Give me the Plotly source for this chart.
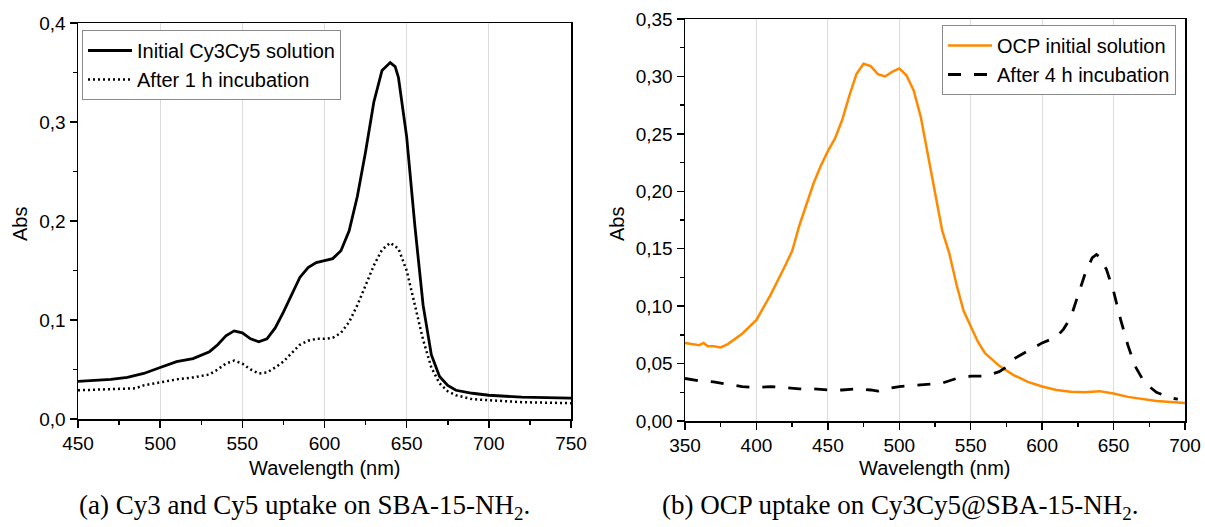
import plotly.graph_objects as go

# ---------------- Panel (a) data ----------------
wl_a = [450, 460, 470, 480, 490, 500, 510, 520, 530, 535, 540, 545, 550, 555, 560, 565,
        570, 575, 580, 585, 590, 595, 600, 605, 610, 615, 620, 625, 630, 635, 640, 643,
        645, 650, 655, 660, 665, 670, 675, 680, 690, 700, 720, 750]
initial_cy3cy5 = [0.038, 0.039, 0.040, 0.042, 0.046, 0.052, 0.058, 0.061, 0.068, 0.075, 0.084,
                  0.089, 0.087, 0.081, 0.078, 0.081, 0.092, 0.108, 0.126, 0.143, 0.153, 0.158,
                  0.160, 0.162, 0.170, 0.190, 0.225, 0.270, 0.320, 0.352, 0.360, 0.356, 0.345,
                  0.285, 0.195, 0.115, 0.065, 0.043, 0.034, 0.029, 0.026, 0.024, 0.022, 0.021]
wl_a2 = [450, 470, 485, 490, 500, 510, 520, 530, 535, 540, 545, 550, 555, 560, 565, 570,
         575, 580, 585, 590, 595, 600, 605, 610, 615, 620, 625, 630, 635, 640, 645, 650,
         655, 660, 665, 670, 675, 680, 690, 700, 720, 750]
after_1h = [0.029, 0.030, 0.031, 0.034, 0.037, 0.040, 0.042, 0.045, 0.050, 0.056, 0.059, 0.056,
            0.050, 0.046, 0.047, 0.052, 0.058, 0.066, 0.075, 0.079, 0.081, 0.081, 0.082, 0.087,
            0.098, 0.115, 0.135, 0.155, 0.171, 0.178, 0.172, 0.150, 0.115, 0.080, 0.052, 0.036,
            0.028, 0.024, 0.020, 0.019, 0.017, 0.016]

# ---------------- Panel (b) data ----------------
wl_b = [350, 355, 360, 363, 366, 370, 375, 380, 390, 400, 410, 420, 425, 430, 440, 445, 450,
        455, 460, 465, 470, 475, 480, 485, 490, 495, 500, 505, 510, 515, 520, 525, 530, 535,
        540, 545, 550, 555, 560, 570, 580, 590, 600, 610, 620, 630, 640, 650, 660, 670, 680,
        690, 700]
ocp_initial = [0.068, 0.067, 0.066, 0.068, 0.065, 0.065, 0.064, 0.067, 0.076, 0.088, 0.110,
               0.135, 0.148, 0.170, 0.207, 0.222, 0.235, 0.246, 0.262, 0.283, 0.302, 0.311,
               0.309, 0.302, 0.300, 0.304, 0.307, 0.301, 0.288, 0.265, 0.233, 0.198, 0.166,
               0.146, 0.119, 0.096, 0.082, 0.069, 0.059, 0.048, 0.040, 0.034, 0.030, 0.027,
               0.0255, 0.025, 0.026, 0.024, 0.021, 0.019, 0.0175, 0.0165, 0.0157]
wl_b2 = [350, 360, 370, 380, 390, 400, 410, 420, 430, 440, 450, 460, 470, 480, 485, 490, 500,
         510, 520, 530, 540, 550, 560, 570, 575, 580, 590, 600, 610, 615, 620, 625, 630, 635,
         638, 640, 645, 650, 655, 660, 665, 670, 675, 680, 690, 695]
after_4h = [0.037, 0.035, 0.034, 0.032, 0.030, 0.029, 0.030, 0.029, 0.028, 0.028, 0.027, 0.027,
            0.028, 0.027, 0.026, 0.028, 0.030, 0.031, 0.032, 0.033, 0.037, 0.039, 0.039, 0.043,
            0.047, 0.054, 0.061, 0.068, 0.073, 0.080, 0.090, 0.110, 0.128, 0.142, 0.145, 0.143,
            0.132, 0.113, 0.088, 0.066, 0.048, 0.037, 0.030, 0.025, 0.020, 0.019]

names = ["Initial Cy3Cy5 solution", "After 1 h incubation",
         "OCP initial solution", "After 4 h incubation"]
captions = ["(a) Cy3 and Cy5 uptake on SBA-15-NH<sub>2</sub>.",
            "(b) OCP uptake on Cy3Cy5@SBA-15-NH<sub>2</sub>."]

W, H = 1205, 527
OFF = 0
SANS = "Liberation Sans, Arial, sans-serif"
SERIF = "Liberation Serif, Times New Roman, serif"
ORANGE = "#FF8A00"

fig = go.Figure()
fig.add_trace(go.Scatter(x=wl_a, y=initial_cy3cy5, mode="lines", name=names[0],
                         line=dict(color="black", width=2.8), xaxis="x", yaxis="y",
                         legend="legend"))
fig.add_trace(go.Scatter(x=wl_a2, y=after_1h, mode="lines", name=names[1],
                         line=dict(color="black", width=2.5, dash="2px,3px"),
                         xaxis="x", yaxis="y", legend="legend"))
fig.add_trace(go.Scatter(x=wl_b, y=ocp_initial, mode="lines", name=names[2],
                         line=dict(color=ORANGE, width=2.5), xaxis="x2", yaxis="y2",
                         legend="legend2"))
fig.add_trace(go.Scatter(x=wl_b2, y=after_4h, mode="lines", name=names[3],
                         line=dict(color="black", width=2.8, dash="13px,13px"),
                         xaxis="x2", yaxis="y2", legend="legend2"))


def px_x(p):
    return (p - OFF) / W


def px_y(p):
    return 1 - (p - OFF) / H


axis_common = dict(showline=True, linecolor="black", linewidth=1.5, mirror=True,
                   ticks="outside", ticklen=7, tickwidth=1.5, tickcolor="black",
                   tickfont=dict(family=SANS, size=19, color="black"), zeroline=False,
                   automargin=False)

fig.update_layout(
    width=W, height=H, margin=dict(l=0, r=0, t=0, b=0, autoexpand=False),
    paper_bgcolor="white", plot_bgcolor="white", separators=",.",
    xaxis=dict(domain=[px_x(78), px_x(571)], range=[450, 750], dtick=50,
               showgrid=True, gridcolor="#dcdcdc", gridwidth=1,
               minor=dict(dtick=25, ticks="outside", ticklen=4, tickcolor="black", showgrid=False),
               anchor="y", **axis_common),
    yaxis=dict(domain=[px_y(419), px_y(23)], range=[0, 0.4], dtick=0.1, tickformat=".1f",
               showgrid=False,
               minor=dict(dtick=0.05, ticks="outside", ticklen=4, tickcolor="black"),
               anchor="x", **axis_common),
    xaxis2=dict(domain=[px_x(685), px_x(1185)], range=[350, 700], dtick=50,
                showgrid=True, gridcolor="#dcdcdc", gridwidth=1,
                minor=dict(dtick=25, ticks="outside", ticklen=4, tickcolor="black", showgrid=False),
                anchor="y2", **axis_common),
    yaxis2=dict(domain=[px_y(421), px_y(19)], range=[0, 0.35], dtick=0.05, tickformat=".2f",
                showgrid=False,
                minor=dict(dtick=0.025, ticks="outside", ticklen=4, tickcolor="black"),
                anchor="x2", **axis_common),
    legend=dict(x=px_x(82), y=px_y(30), xanchor="left", yanchor="top",
                bordercolor="#8a8a8a", borderwidth=1, bgcolor="white",
                font=dict(family=SANS, size=20, color="black"),
                tracegroupgap=0, itemwidth=44),
    legend2=dict(x=px_x(942), y=px_y(25), xanchor="left", yanchor="top",
                 bordercolor="#8a8a8a", borderwidth=1, bgcolor="white",
                 font=dict(family=SANS, size=20, color="black"),
                 tracegroupgap=0, itemwidth=44),
    showlegend=True,
)

ann_font = dict(family=SANS, size=20, color="black")
annotations = [
    dict(text="Wavelength (nm)", x=px_x(325), y=px_y(468), font=ann_font),
    dict(text="Wavelength (nm)", x=px_x(935), y=px_y(468), font=ann_font),
    dict(text="Abs", x=px_x(20), y=px_y(224), textangle=-90, font=ann_font),
    dict(text="Abs", x=px_x(617), y=px_y(224), textangle=-90, font=ann_font),
    dict(text=captions[0], x=px_x(304), y=px_y(507),
         font=dict(family=SERIF, size=27, color="black")),
    dict(text=captions[1], x=px_x(900), y=px_y(507),
         font=dict(family=SERIF, size=27, color="black")),
]
for a in annotations:
    a.update(xref="paper", yref="paper", xanchor="center", yanchor="middle", showarrow=False)
fig.update_layout(annotations=annotations)

fig.write_html(
    "out.html",
    config={"displayModeBar": False, "staticPlot": True},
    post_script="document.body.style.margin='0';document.body.style.overflow='hidden';",
)
